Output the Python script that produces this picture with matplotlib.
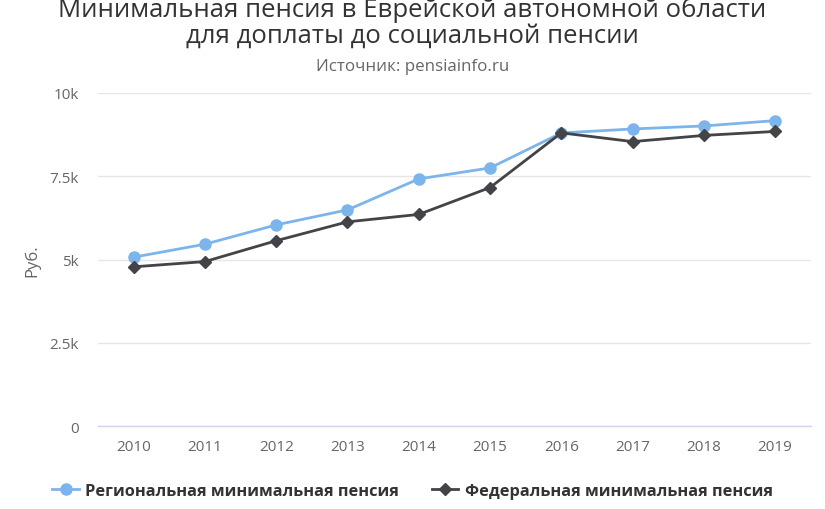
import matplotlib.pyplot as plt
from matplotlib.ticker import FixedLocator

years = ["2010", "2011", "2012", "2013", "2014", "2015", "2016", "2017", "2018", "2019"]
regional = [5070, 5460, 6040, 6490, 7420, 7750, 8800, 8920, 9010, 9170]
federal = [4780, 4938, 5564, 6131, 6354, 7161, 8803, 8540, 8726, 8846]

yticks = [0, 2500, 5000, 7500, 10000]
ytick_labels = ["0", "2.5k", "5k", "7.5k", "10k"]

plt.rcParams["font.family"] = ["Open Sans", "DejaVu Sans"]

fig = plt.figure(figsize=(8.25, 5.10), dpi=100)
ax = fig.add_axes([0.1188, 0.1627, 0.864, 0.653])

x = list(range(len(years)))
ax.plot(x, regional, color="#7cb5ec", lw=2, marker="o", ms=8,
        label="Региональная минимальная пенсия", zorder=3)
ax.plot(x, federal, color="#434348", lw=2, marker="D", ms=6,
        label="Федеральная минимальная пенсия", zorder=4)

ax.set_xlim(-0.5, len(years) - 0.5)
ax.set_ylim(0, 10000)
ax.yaxis.set_major_locator(FixedLocator(yticks))
ax.set_yticklabels(ytick_labels)
ax.set_xticks(x)
ax.set_xticklabels(years)

ax.grid(axis="y", color="#e6e6e6", lw=1)
ax.set_axisbelow(True)
for side in ["top", "right", "left"]:
    ax.spines[side].set_visible(False)
ax.spines["bottom"].set_color("#ccd6eb")
ax.spines["bottom"].set_linewidth(1)
ax.tick_params(axis="both", length=0, colors="#666666", labelsize=11)
ax.tick_params(axis="x", pad=9)
ax.tick_params(axis="y", pad=14)
ax.set_ylabel("Руб.", color="#666666", fontsize=12, labelpad=6)

fig.text(0.5, 0.955, "Минимальная пенсия в Еврейской автономной области\nдля доплаты до социальной пенсии",
         ha="center", va="center", fontsize=18.5, color="#333333", linespacing=1.08)
fig.text(0.5, 0.868, "Источник: pensiainfo.ru", ha="center", va="center",
         fontsize=12.2, color="#666666")

leg = fig.legend(loc="center", bbox_to_anchor=(0.5, 0.035), ncol=2, frameon=False,
                 prop={"weight": "bold", "size": 11.8}, handlelength=1.6,
                 columnspacing=2.0, handletextpad=0.4)
for t in leg.get_texts():
    t.set_color("#333333")

fig.savefig("out.png", dpi=100)
